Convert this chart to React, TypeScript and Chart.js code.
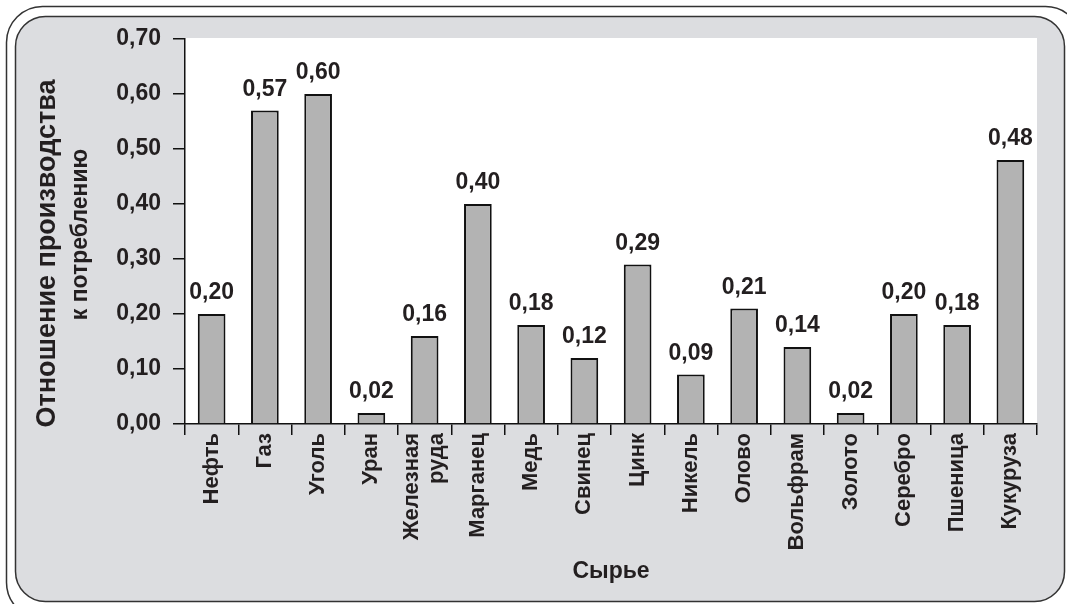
import React, { useEffect, useRef } from 'react';
import { Chart, registerables } from 'chart.js';

Chart.register(...registerables);

const categories: (string | string[])[] = [
  'Нефть',
  'Газ',
  'Уголь',
  'Уран',
  ['Железная', 'руда'],
  'Марганец',
  'Медь',
  'Свинец',
  'Цинк',
  'Никель',
  'Олово',
  'Вольфрам',
  'Золото',
  'Серебро',
  'Пшеница',
  'Кукуруза',
];

const values: number[] = [0.2, 0.57, 0.6, 0.02, 0.16, 0.4, 0.18, 0.12, 0.29, 0.09, 0.21, 0.14, 0.02, 0.2, 0.18, 0.48];

const yMin = 0;
const yMax = 0.7;
const yStep = 0.1;

const yTitleLines: string[] = ['Отношение производства', 'к потреблению'];
const xTitle = 'Сырье';

const FONT = "'Liberation Sans', Arial, Helvetica, sans-serif";
const TEXT = '#231f20';
const LINE = '#111111';

const fmt = (v: number) => v.toFixed(2).replace('.', ',');

function roundRectPath(ctx: CanvasRenderingContext2D, x: number, y: number, w: number, h: number, r: number) {
  ctx.beginPath();
  ctx.moveTo(x + r, y);
  ctx.lineTo(x + w - r, y);
  ctx.arcTo(x + w, y, x + w, y + r, r);
  ctx.lineTo(x + w, y + h - r);
  ctx.arcTo(x + w, y + h, x + w - r, y + h, r);
  ctx.lineTo(x + r, y + h);
  ctx.arcTo(x, y + h, x, y + h - r, r);
  ctx.lineTo(x, y + r);
  ctx.arcTo(x, y, x + r, y, r);
  ctx.closePath();
}

export default function App() {
  const ref = useRef<HTMLCanvasElement>(null);

  useEffect(() => {
    if (!ref.current) return;

    const framePlugin = {
      id: 'frame',
      beforeDraw(chart: any) {
        const { ctx, width, height, chartArea } = chart;
        ctx.save();
        ctx.fillStyle = '#ffffff';
        ctx.fillRect(0, 0, width, height);
        ctx.lineWidth = 1.5;
        ctx.strokeStyle = '#333333';
        roundRectPath(ctx, 6.5, 6.5, 1075, 612, 36);
        ctx.stroke();
        roundRectPath(ctx, 15.5, 16.5, 1049, 585, 30);
        ctx.fillStyle = '#dcdde0';
        ctx.fill();
        ctx.stroke();
        ctx.fillStyle = '#ffffff';
        ctx.fillRect(chartArea.left, chartArea.top - 1, chartArea.right - chartArea.left, chartArea.bottom - chartArea.top + 1);
        ctx.restore();

        // center multi-line category labels on their tick
        const xs: any = chart.scales.x;
        const items = xs.getLabelItems();
        items.forEach((it: any) => {
          if (Array.isArray(it.label) && !it._centered) {
            const lh = it.font.lineHeight;
            it.options.translation[0] -= (lh * (it.label.length - 1)) / 2;
            it._centered = true;
          }
        });
      },
    };

    const valueLabels = {
      id: 'valueLabels',
      afterDatasetsDraw(chart: any) {
        const { ctx } = chart;
        const meta = chart.getDatasetMeta(0);
        ctx.save();
        ctx.font = `bold 23px ${FONT}`;
        ctx.fillStyle = TEXT;
        ctx.textAlign = 'center';
        ctx.textBaseline = 'alphabetic';
        meta.data.forEach((bar: any, i: number) => {
          ctx.fillText(fmt(values[i]), bar.x, bar.y - 15);
        });
        ctx.restore();
      },
    };

    const yTitle = {
      id: 'yTitle',
      afterDraw(chart: any) {
        const { ctx, chartArea } = chart;
        const mid = (chartArea.top + chartArea.bottom) / 2;
        ctx.save();
        ctx.fillStyle = TEXT;
        ctx.textAlign = 'center';
        ctx.textBaseline = 'alphabetic';
        ctx.translate(chartArea.left - 130, mid + 22);
        ctx.rotate(-Math.PI / 2);
        ctx.font = `bold 27px ${FONT}`;
        ctx.fillText(yTitleLines[0], 0, 0);
        ctx.restore();
        ctx.save();
        ctx.fillStyle = TEXT;
        ctx.textAlign = 'center';
        ctx.textBaseline = 'alphabetic';
        ctx.translate(chartArea.left - 98, mid + 3);
        ctx.rotate(-Math.PI / 2);
        ctx.font = `bold 23px ${FONT}`;
        ctx.fillText(yTitleLines[1], 0, 0);
        ctx.restore();
      },
    };

    const chart = new Chart(ref.current, {
      type: 'bar',
      data: {
        labels: categories,
        datasets: [
          {
            data: values,
            backgroundColor: '#b3b3b3',
            borderColor: LINE,
            borderWidth: 2,
            barPercentage: 0.52,
            categoryPercentage: 1,
          },
        ],
      },
      options: {
        responsive: false,
        animation: false,
        devicePixelRatio: 1,
        layout: { padding: { left: 0, top: 39, right: 30, bottom: 0 } },
        plugins: {
          legend: { display: false },
          tooltip: { enabled: false },
          title: { display: false },
        },
        scales: {
          x: {
            offset: true,
            afterFit: (s: any) => {
              s.height = 180;
            },
            grid: {
              display: true,
              drawOnChartArea: false,
              drawTicks: true,
              tickLength: 11,
              color: LINE,
              lineWidth: 1.5,
              offset: true,
            },
            border: { display: true, color: LINE, width: 1.5 },
            ticks: {
              autoSkip: false,
              minRotation: 90,
              maxRotation: 90,
              padding: -2,
              color: TEXT,
              font: { family: FONT, size: 22, weight: 'bold', lineHeight: 1.15 },
            },
            title: {
              display: true,
              text: xTitle,
              color: TEXT,
              font: { family: FONT, size: 23, weight: 'bold', lineHeight: 1.2 },
              padding: { top: 0, bottom: 19 },
            },
          },
          y: {
            min: yMin,
            max: yMax,
            afterFit: (s: any) => {
              s.width = 185;
            },
            grid: {
              display: true,
              drawOnChartArea: false,
              drawTicks: true,
              tickLength: 12,
              color: LINE,
              lineWidth: 1.5,
            },
            border: { display: true, color: LINE, width: 1.5 },
            ticks: {
              stepSize: yStep,
              padding: 12,
              color: TEXT,
              font: { family: FONT, size: 23, weight: 'bold' },
              callback: (v: any) => fmt(Number(v)),
            },
            title: { display: false },
          },
        },
      } as any,
      plugins: [framePlugin, valueLabels, yTitle],
    });

    return () => chart.destroy();
  }, []);

  return (
    <div style={{ position: 'absolute', left: 0, top: 0, width: 1067, height: 604 }}>
      <canvas ref={ref} width={1067} height={604} style={{ display: 'block', width: 1067, height: 604 }} />
    </div>
  );
}
